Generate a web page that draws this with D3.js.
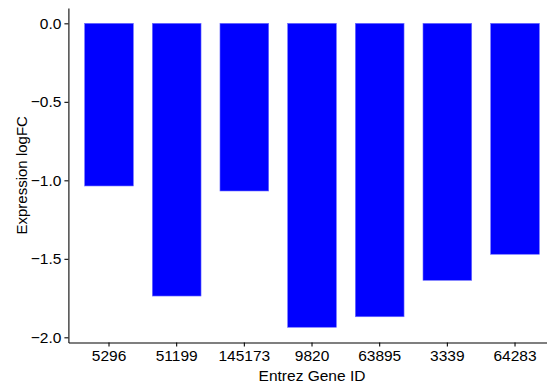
<!DOCTYPE html>
<html>
<head>
<meta charset="utf-8">
<script src="https://cdn.jsdelivr.net/npm/d3@7"></script>
<style>
  body { margin: 0; background: #fff; }
  svg { display: block; font-family: "Liberation Sans", Arial, sans-serif; }
</style>
</head>
<body>
<svg width="547" height="387"></svg>
<script>
var genes = ["5296", "51199", "145173", "9820", "63895", "3339", "64283"];
var logFC = [-1.036, -1.737, -1.068, -1.936, -1.869, -1.637, -1.471];
var yTicks = [0, -0.5, -1.0, -1.5, -2.0];

var data = genes.map(function(g, i) { return {gene: g, value: logFC[i]}; });

var svg = d3.select("svg"),
    mLeft = 68.4,
    mTop = 8.1,
    mBottom = 342.5;

var x = d3.scaleBand()
    .domain(genes)
    .range([mLeft, mLeft + 7.2 * 67.67])
    .paddingInner(0.28)
    .paddingOuter(0.24);

var y = d3.scaleLinear()
    .domain([-2.033, 0.097])
    .range([mBottom, mTop]);

svg.append("g")
  .selectAll("rect")
  .data(data)
  .enter().append("rect")
    .attr("x", function(d) { return x(d.gene); })
    .attr("width", x.bandwidth())
    .attr("y", y(0))
    .attr("height", function(d) { return y(d.value) - y(0); })
    .attr("fill", "#0000ff")
    .attr("stroke", "#6f6fff")
    .attr("stroke-width", 0.6);

var xAxis = svg.append("g")
    .attr("transform", "translate(0," + mBottom + ")")
    .call(d3.axisBottom(x).tickSize(4).tickSizeOuter(0).tickPadding(3));

var yAxis = svg.append("g")
    .attr("transform", "translate(" + mLeft + ",0)")
    .call(d3.axisLeft(y).tickValues(yTicks).tickFormat(d3.format(".1f"))
      .tickSize(4).tickSizeOuter(0).tickPadding(3));

[xAxis, yAxis].forEach(function(a) {
  a.selectAll("text").attr("fill", "#000").style("font-size", "15.5px")
    .style("font-family", "'Liberation Sans', Arial, sans-serif");
  a.selectAll("line, path").attr("stroke", "#000").attr("stroke-width", 1.07);
});

svg.append("text")
    .attr("x", (mLeft + x.range()[1]) / 2)
    .attr("y", 381)
    .attr("text-anchor", "middle")
    .style("font-size", "15.5px")
    .text("Entrez Gene ID");

svg.append("text")
    .attr("transform", "translate(27," + ((mTop + mBottom) / 2) + ") rotate(-90)")
    .attr("text-anchor", "middle")
    .style("font-size", "15px")
    .text("Expression logFC");
</script>
</body>
</html>
